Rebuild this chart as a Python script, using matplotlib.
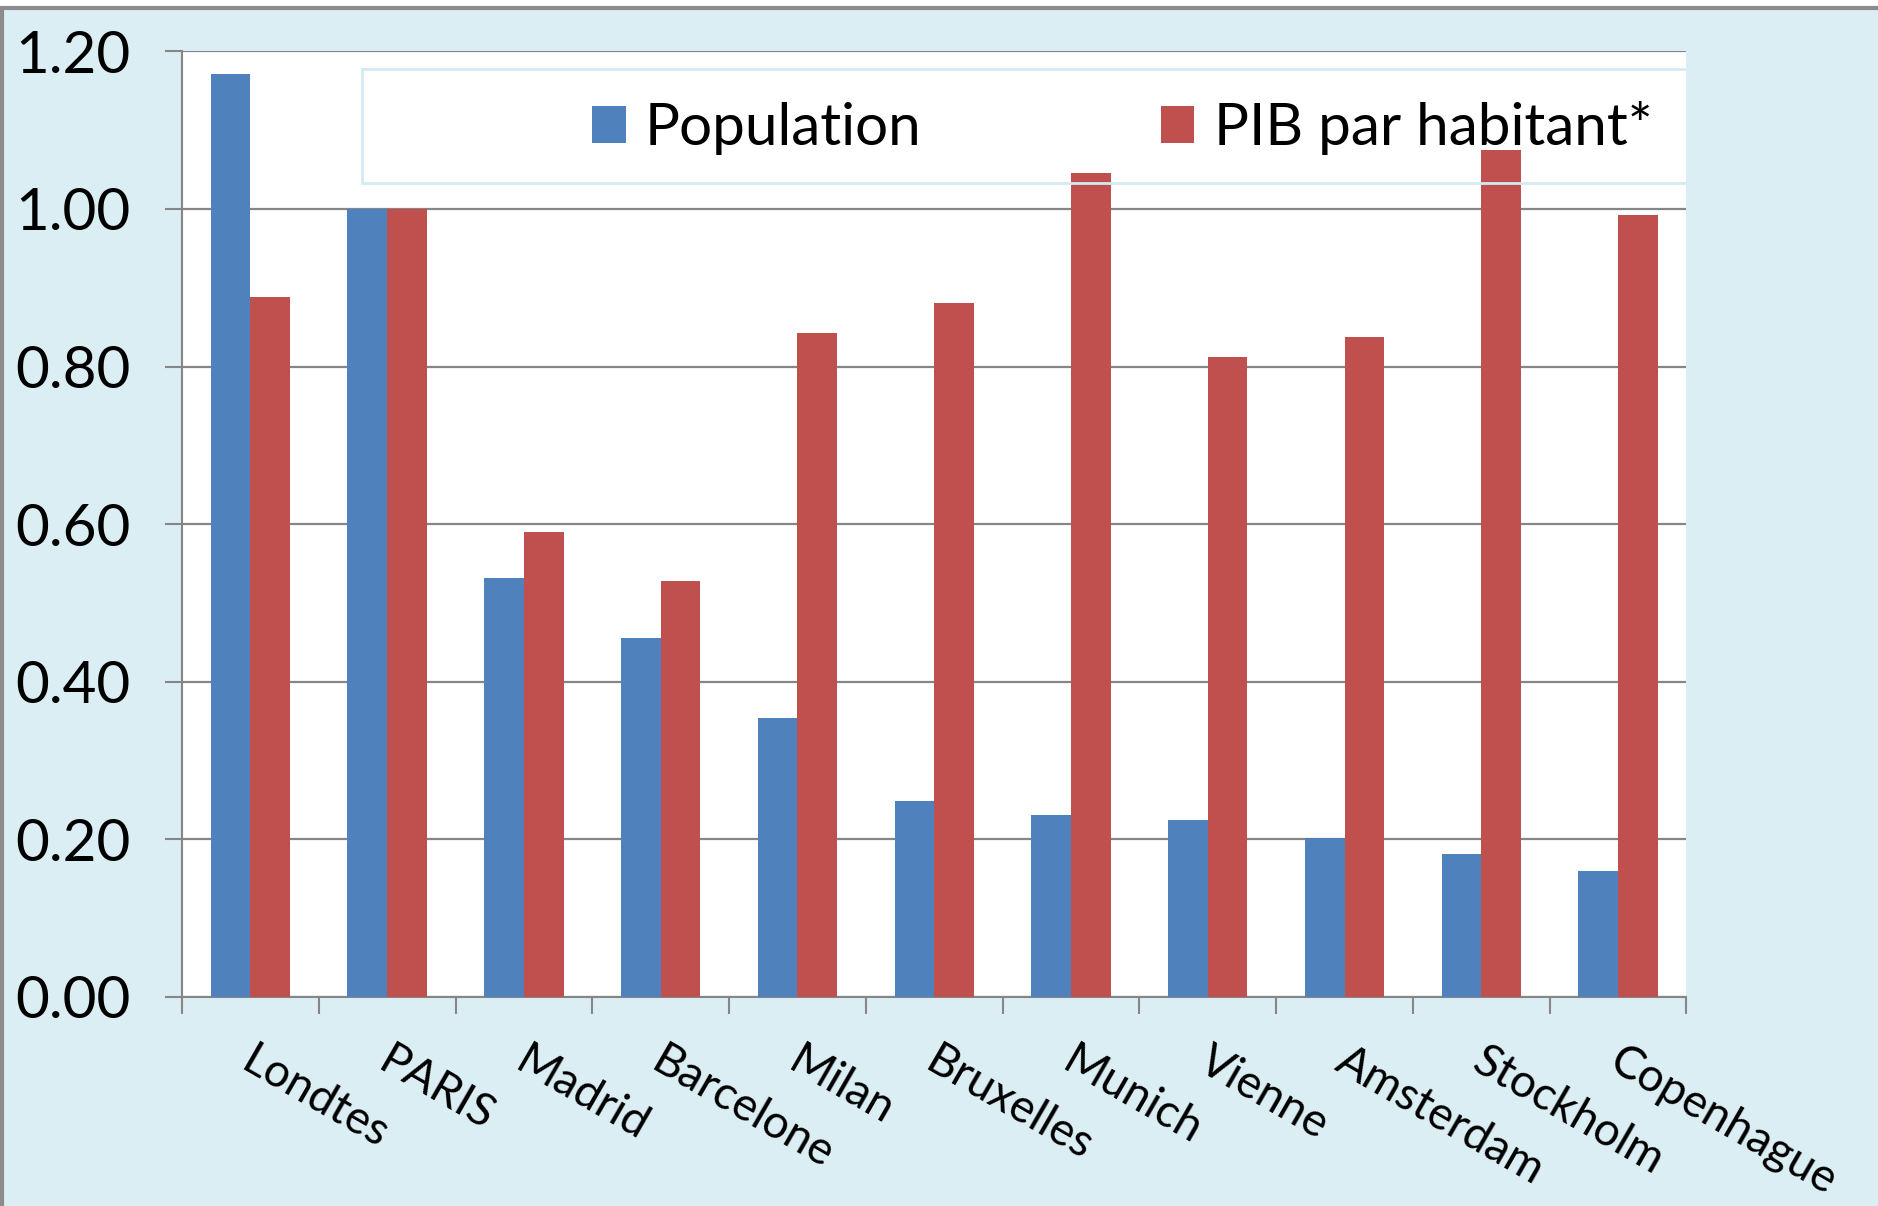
import matplotlib.pyplot as plt
from matplotlib.patches import Rectangle
import numpy as np

villes = ["Londtes", "PARIS", "Madrid", "Barcelone", "Milan", "Bruxelles",
          "Munich", "Vienne", "Amsterdam", "Stockholm", "Copenhague"]
population = [1.171, 1.00, 0.531, 0.455, 0.354, 0.248, 0.230, 0.224, 0.201, 0.181, 0.160]
pib_hab = [0.888, 1.00, 0.590, 0.528, 0.843, 0.881, 1.046, 0.812, 0.838, 1.075, 0.992]
y_ticks = [0.0, 0.2, 0.4, 0.6, 0.8, 1.0, 1.2]

bleu = "#4F81BD"
rouge = "#C0504D"
fond = "#DBEEF4"
gris = "#868686"

plt.rcParams["font.family"] = ["Lato", "DejaVu Sans"]

fig = plt.figure(figsize=(18.78, 12.06), dpi=100, facecolor="white")
# cadre bleu clair du graphique
fig.patches.append(Rectangle((0.001, -0.05), 1.2, 1.05 - 8 / 1206,
                             transform=fig.transFigure, facecolor=fond,
                             edgecolor="#8C8C8C", linewidth=3, zorder=-10))

ax = fig.add_axes([0.0969, 0.1737, 0.8011, 0.7836])
ax.set_facecolor("white")

x = np.arange(len(villes))
w = 0.29
ax.bar(x - w / 2, population, w, color=bleu, label="Population", zorder=3)
ax.bar(x + w / 2, pib_hab, w, color=rouge, label="PIB par habitant*", zorder=3)

ax.set_xlim(-0.5, len(villes) - 0.5)
ax.set_ylim(0, 1.2)
ax.set_yticks(y_ticks)
ax.set_yticklabels([f"{v:.2f}" for v in y_ticks], fontsize=42)
ax.yaxis.grid(True, color=gris, linewidth=1.6, zorder=1)
ax.set_axisbelow(True)

ax.set_xticks(x + 0.04)
ax.set_xticklabels(villes, fontsize=33, rotation=-30, ha="left", va="top",
                   rotation_mode="anchor")
ax.set_xticks(np.arange(-0.5, len(villes)), minor=True)
ax.tick_params(axis="x", which="major", length=0, pad=31)
ax.tick_params(axis="x", which="minor", length=12, width=1.5, color=gris, direction="out")
ax.tick_params(axis="y", length=12, width=1.5, color=gris, direction="out", pad=25)

for s in ["top", "right"]:
    ax.spines[s].set_visible(False)
for s in ["left", "bottom"]:
    ax.spines[s].set_color(gris)
    ax.spines[s].set_linewidth(1.5)

# cadre de la légende, coupé par le bord droit du tracé
cadre = Rectangle((0.1197, 0.861), 1.0, 0.12, transform=ax.transAxes,
                  facecolor="none", edgecolor="#D4EAF2", linewidth=2, zorder=4)
ax.add_patch(cadre)
cadre.set_clip_on(True)

leg = ax.legend(loc="center left", bbox_to_anchor=(0.2726, 0.919), ncol=2,
                frameon=False, fontsize=42, borderpad=0, borderaxespad=0,
                handlelength=0.575, handleheight=0.62, handletextpad=0.33,
                columnspacing=4.1)

fig.savefig("out.png", dpi=100, facecolor=fig.get_facecolor())
